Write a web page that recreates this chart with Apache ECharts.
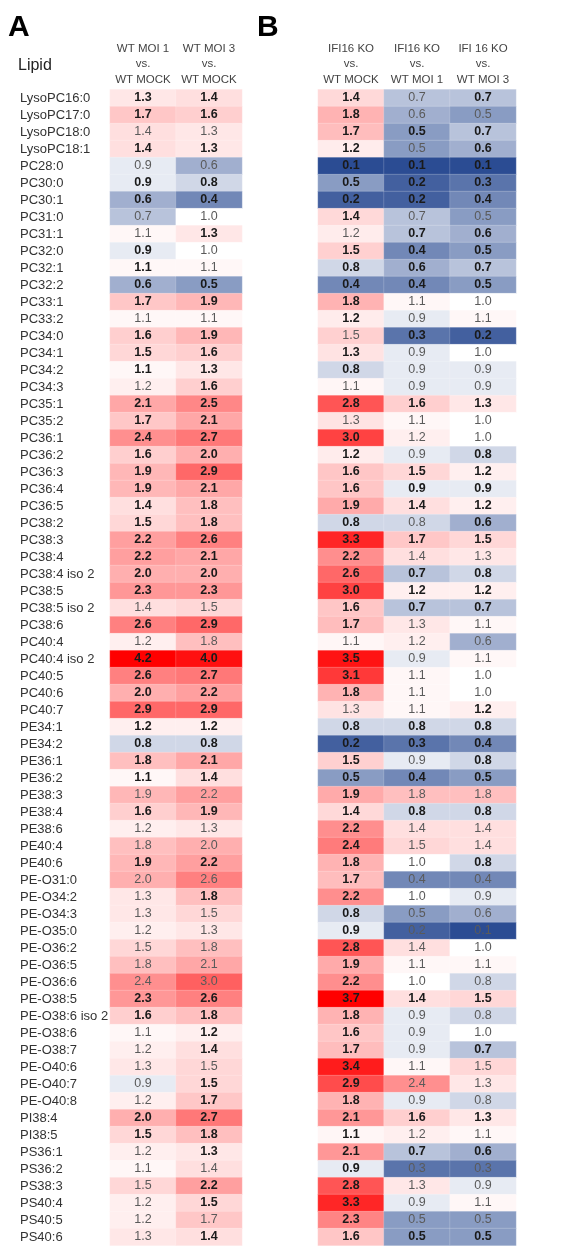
<!DOCTYPE html>
<html>
<head>
<meta charset="utf-8">
<script src="https://cdn.jsdelivr.net/npm/echarts@6/dist/echarts.min.js"></script>
<style>
html,body{margin:0;padding:0;background:#fff;}
#chart{width:583px;height:1246px;}
</style>
</head>
<body>
<div id="chart"></div>
<script>
const lipids = ['LysoPC16:0','LysoPC17:0','LysoPC18:0','LysoPC18:1','PC28:0','PC30:0','PC30:1','PC31:0','PC31:1','PC32:0','PC32:1','PC32:2','PC33:1','PC33:2','PC34:0','PC34:1','PC34:2','PC34:3','PC35:1','PC35:2','PC36:1','PC36:2','PC36:3','PC36:4','PC36:5','PC38:2','PC38:3','PC38:4','PC38:4 iso 2','PC38:5','PC38:5 iso 2','PC38:6','PC40:4','PC40:4 iso 2','PC40:5','PC40:6','PC40:7','PE34:1','PE34:2','PE36:1','PE36:2','PE38:3','PE38:4','PE38:6','PE40:4','PE40:6','PE-O31:0','PE-O34:2','PE-O34:3','PE-O35:0','PE-O36:2','PE-O36:5','PE-O36:6','PE-O38:5','PE-O38:6 iso 2','PE-O38:6','PE-O38:7','PE-O40:6','PE-O40:7','PE-O40:8','PI38:4','PI38:5','PS36:1','PS36:2','PS38:3','PS40:4','PS40:5','PS40:6'];

const colsA = ['WT MOI 1\nvs.\nWT MOCK','WT MOI 3\nvs.\nWT MOCK'];
const colsB = ['IFI16 KO\nvs.\nWT MOCK','IFI16 KO\nvs.\nWT MOI 1','IFI 16 KO\nvs.\nWT MOI 3'];

const wtMoi1 = [1.3,1.7,1.4,1.4,0.9,0.9,0.6,0.7,1.1,0.9,1.1,0.6,1.7,1.1,1.6,1.5,1.1,1.2,2.1,1.7,2.4,1.6,1.9,1.9,1.4,1.5,2.2,2.2,2.0,2.3,1.4,2.6,1.2,4.2,2.6,2.0,2.9,1.2,0.8,1.8,1.1,1.9,1.6,1.2,1.8,1.9,2.0,1.3,1.3,1.2,1.5,1.8,2.4,2.3,1.6,1.1,1.2,1.3,0.9,1.2,2.0,1.5,1.2,1.1,1.5,1.2,1.2,1.3];
const wtMoi1Bold = [1,1,0,1,0,1,1,0,0,1,1,1,1,0,1,1,1,0,1,1,1,1,1,1,1,1,1,1,1,1,0,1,0,1,1,1,1,1,1,1,1,0,1,0,0,1,0,0,0,0,0,0,0,1,1,0,0,0,0,0,1,1,0,0,0,0,0,0];
const wtMoi3 = [1.4,1.6,1.3,1.3,0.6,0.8,0.4,1.0,1.3,1.0,1.1,0.5,1.9,1.1,1.9,1.6,1.3,1.6,2.5,2.1,2.7,2.0,2.9,2.1,1.8,1.8,2.6,2.1,2.0,2.3,1.5,2.9,1.8,4.0,2.7,2.2,2.9,1.2,0.8,2.1,1.4,2.2,1.9,1.3,2.0,2.2,2.6,1.8,1.5,1.3,1.8,2.1,3.0,2.6,1.8,1.2,1.4,1.5,1.5,1.7,2.7,1.8,1.3,1.4,2.2,1.5,1.7,1.4];
const wtMoi3Bold = [1,1,0,1,0,1,1,0,1,0,0,1,1,0,1,1,1,1,1,1,1,1,1,1,1,1,1,1,1,1,0,1,0,1,1,1,1,1,1,1,1,0,1,0,0,1,0,1,0,0,0,0,0,1,1,1,1,0,1,1,1,1,1,0,1,1,0,1];

const koVsMock = [1.4,1.8,1.7,1.2,0.1,0.5,0.2,1.4,1.2,1.5,0.8,0.4,1.8,1.2,1.5,1.3,0.8,1.1,2.8,1.3,3.0,1.2,1.6,1.6,1.9,0.8,3.3,2.2,2.6,3.0,1.6,1.7,1.1,3.5,3.1,1.8,1.3,0.8,0.2,1.5,0.5,1.9,1.4,2.2,2.4,1.8,1.7,2.2,0.8,0.9,2.8,1.9,2.2,3.7,1.8,1.6,1.7,3.4,2.9,1.8,2.1,1.1,2.1,0.9,2.8,3.3,2.3,1.6];
const koVsMockBold = [1,1,1,1,1,1,1,1,0,1,1,1,1,1,0,1,1,0,1,0,1,1,1,1,1,1,1,1,1,1,1,1,0,1,1,1,0,1,1,1,1,1,1,1,1,1,1,1,1,1,1,1,1,1,1,1,1,1,1,1,1,1,1,1,1,1,1,1];
const koVsMoi1 = [0.7,0.6,0.5,0.5,0.1,0.2,0.2,0.7,0.7,0.4,0.6,0.4,1.1,0.9,0.3,0.9,0.9,0.9,1.6,1.1,1.2,0.9,1.5,0.9,1.4,0.8,1.7,1.4,0.7,1.2,0.7,1.3,1.2,0.9,1.1,1.1,1.1,0.8,0.3,0.9,0.4,1.8,0.8,1.4,1.5,1.0,0.4,1.0,0.5,0.2,1.4,1.1,1.0,1.4,0.9,0.9,0.9,1.1,2.4,0.9,1.6,1.2,0.7,0.3,1.3,0.9,0.5,0.5];
const koVsMoi1Bold = [0,0,1,0,1,1,1,0,1,1,1,1,0,0,1,0,0,0,1,0,0,0,1,1,1,0,1,0,1,1,1,0,0,0,0,0,0,1,1,0,1,0,1,0,0,0,0,0,0,0,0,0,0,1,0,0,0,0,0,0,1,0,1,0,0,0,0,1];
const koVsMoi3 = [0.7,0.5,0.7,0.6,0.1,0.3,0.4,0.5,0.6,0.5,0.7,0.5,1.0,1.1,0.2,1.0,0.9,0.9,1.3,1.0,1.0,0.8,1.2,0.9,1.2,0.6,1.5,1.3,0.8,1.2,0.7,1.1,0.6,1.1,1.0,1.0,1.2,0.8,0.4,0.8,0.5,1.8,0.8,1.4,1.4,0.8,0.4,0.9,0.6,0.1,1.0,1.1,0.8,1.5,0.8,1.0,0.7,1.5,1.3,0.8,1.3,1.1,0.6,0.3,0.9,1.1,0.5,0.5];
const koVsMoi3Bold = [1,0,1,1,1,1,1,0,1,1,1,1,0,0,1,0,0,0,1,0,0,1,1,1,1,1,1,0,1,1,1,0,0,0,0,0,1,1,1,1,1,0,1,0,0,1,0,0,0,0,0,0,0,1,0,0,1,0,0,0,1,0,1,0,0,0,0,1];

const panelAValues = [wtMoi1, wtMoi3];
const panelABold = [wtMoi1Bold, wtMoi3Bold];
const panelBValues = [koVsMock, koVsMoi1, koVsMoi3];
const panelBBold = [koVsMockBold, koVsMoi1Bold, koVsMoi3Bold];

// upper end of the red scale: largest value of the whole table, or of the
// column itself when that column holds the strongest reds of its panel
const allValues = [].concat(wtMoi1, wtMoi3, koVsMock, koVsMoi1, koVsMoi3);
const globalMax = Math.max.apply(null, allValues);
const colMaxA = [globalMax, globalMax];
const colMaxB = [Math.max.apply(null, koVsMock), globalMax, globalMax];

function colourPos(v, maxV) {
  return v < 1 ? (v - 1) / 0.9 : (v - 1) / (maxV - 1);
}
function buildData(cols, bolds, maxes) {
  const out = [];
  cols.forEach((c, ci) => {
    c.forEach((v, ri) => {
      const b = bolds[ci][ri] === 1;
      out.push({
        value: [ci, ri, v, colourPos(v, maxes[ci])],
        label: {
          fontWeight: b ? 'bold' : 'normal',
          color: b ? '#1a1a1a' : '#5a5a5a'
        }
      });
    });
  });
  return out;
}

const chart = echarts.init(document.getElementById('chart'), null, {renderer: 'canvas'});
const fontFam = '"Liberation Sans", Arial, sans-serif';
const GRID_TOP = 89.5, GRID_H = lipids.length * 17;

function xAxisCfg(idx, cats) {
  return {
    type: 'category', gridIndex: idx, data: cats, position: 'top',
    axisLine: {show: false}, axisTick: {show: false}, splitLine: {show: false},
    axisLabel: {color: '#444', fontSize: 11.5, lineHeight: 15.5, fontFamily: fontFam, margin: 2, interval: 0}
  };
}
function yAxisCfg(idx, show) {
  return {
    type: 'category', gridIndex: idx, data: lipids, inverse: true,
    axisLine: {show: false}, axisTick: {show: false}, splitLine: {show: false},
    axisLabel: show ? {show: true, align: 'left', margin: 90, color: '#333', fontSize: 13, fontFamily: fontFam, interval: 0} : {show: false}
  };
}
function heatSeries(idx, data) {
  return {
    type: 'heatmap', xAxisIndex: idx, yAxisIndex: idx, data: data,
    encode: {x: 0, y: 1, value: 2},
    itemStyle: {borderColor: 'rgba(255,255,255,0.35)', borderWidth: 0.5},
    label: {show: true, fontSize: 12.5, fontFamily: fontFam,
      formatter: p => p.value[2].toFixed(1)},
    emphasis: {disabled: true}
  };
}

chart.setOption({
  animation: false,
  backgroundColor: '#fff',
  grid: [
    {left: 110, width: 132, top: GRID_TOP, height: GRID_H},
    {left: 318, width: 198, top: GRID_TOP, height: GRID_H}
  ],
  xAxis: [xAxisCfg(0, colsA), xAxisCfg(1, colsB)],
  yAxis: [yAxisCfg(0, true), yAxisCfg(1, false)],
  visualMap: [{
    show: false, type: 'continuous', dimension: 3, min: -1, max: 1,
    seriesIndex: [0, 1],
    inRange: {color: ['#2b4c93', '#ffffff', '#ff0000']}
  }],
  series: [
    heatSeries(0, buildData(panelAValues, panelABold, colMaxA)),
    heatSeries(1, buildData(panelBValues, panelBBold, colMaxB))
  ],
  graphic: [
    {type: 'text', left: 8, top: 13, style: {text: 'A', font: 'bold 30px ' + fontFam, fill: '#000'}},
    {type: 'text', left: 257, top: 13, style: {text: 'B', font: 'bold 30px ' + fontFam, fill: '#000'}},
    {type: 'text', left: 18, top: 58, style: {text: 'Lipid', font: '16px ' + fontFam, fill: '#222'}}
  ]
});
</script>
</body>
</html>
